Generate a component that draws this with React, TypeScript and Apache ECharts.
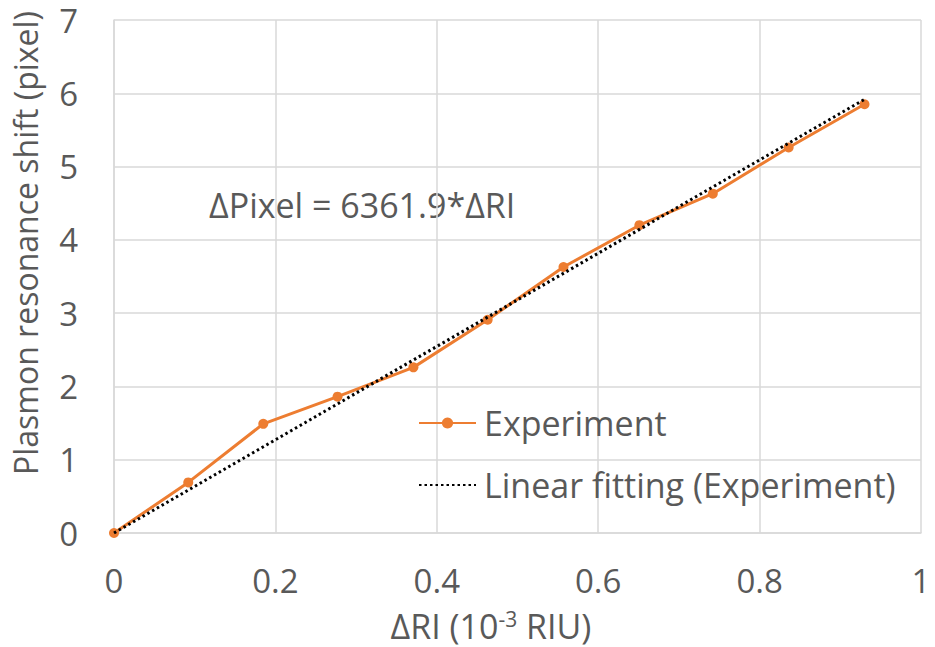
import React, { useEffect, useRef } from "react";
import * as echarts from "echarts";

const riValues = [0, 0.092, 0.185, 0.277, 0.371, 0.463, 0.557, 0.651, 0.742, 0.836, 0.93];
const shiftValues = [0, 0.69, 1.49, 1.86, 2.26, 2.91, 3.63, 4.2, 4.63, 5.26, 5.85];
const fitX = [0, 0.93];
const fitY = [0, 5.917];
const xTicks = [0, 0.2, 0.4, 0.6, 0.8, 1];
const yTicks = [0, 1, 2, 3, 4, 5, 6, 7];

const FONT = "'Open Sans', sans-serif";
const GRAY = "#595959";
const ORANGE = "#ED7D31";

export default function App() {
  const ref = useRef<HTMLDivElement>(null);
  useEffect(() => {
    if (!ref.current) return;
    const chart = echarts.init(ref.current, undefined, { renderer: "svg" });
    chart.setOption({
      animation: false,
      backgroundColor: "#ffffff",
      textStyle: { fontFamily: FONT },
      grid: { left: 114, top: 20, right: 14, bottom: 114 },
      xAxis: {
        type: "value",
        min: xTicks[0],
        max: xTicks[xTicks.length - 1],
        interval: 0.2,
        axisLine: { lineStyle: { color: "#d9d9d9", width: 1.5 } },
        axisTick: { show: false },
        splitLine: { lineStyle: { color: "#d9d9d9", width: 1.5 } },
        axisLabel: {
          color: GRAY,
          fontSize: 33,
          fontFamily: FONT,
          margin: 31,
          formatter: (v: number) => String(Math.round(v * 10) / 10),
        },
      },
      yAxis: {
        type: "value",
        min: yTicks[0],
        max: yTicks[yTicks.length - 1],
        interval: 1,
        axisLine: { show: true, lineStyle: { color: "#d9d9d9", width: 1.5 } },
        axisTick: { show: false },
        splitLine: { lineStyle: { color: "#d9d9d9", width: 1.5 } },
        axisLabel: { color: GRAY, fontSize: 33, fontFamily: FONT, margin: 36, lineHeight: 33 },
      },
      legend: {
        orient: "vertical",
        left: 413,
        top: 401,
        itemWidth: 57,
        itemHeight: 14,
        itemGap: 28,
        textStyle: { color: GRAY, fontSize: 34, fontFamily: FONT, padding: [0, 0, 0, 3] },
        data: [
          { name: "Experiment" },
          { name: "Linear fitting (Experiment)", itemStyle: { opacity: 0 } },
        ],
      },
      series: [
        {
          name: "Linear fitting (Experiment)",
          type: "line",
          data: fitX.map((x, i) => [x, fitY[i]]),
          symbol: "none",
          lineStyle: { color: "#000000", width: 3, type: [2.5, 3] },
          itemStyle: { color: "#000000" },
          z: 3,
        },
        {
          name: "Experiment",
          type: "line",
          data: riValues.map((x, i) => [x, shiftValues[i]]),
          symbol: "circle",
          symbolSize: 10,
          lineStyle: { color: ORANGE, width: 3 },
          itemStyle: { color: ORANGE },
          z: 2,
        },
      ],
      graphic: [
        {
          type: "text",
          left: 209,
          top: 188,
          style: { text: "ΔPixel = 6361.9*ΔRI", fill: GRAY, font: `34px ${FONT}` },
        },
        {
          type: "text",
          x: 25,
          y: 243,
          rotation: Math.PI / 2,
          style: {
            text: "Plasmon resonance shift (pixel)",
            fill: GRAY,
            font: `32px ${FONT}`,
            align: "center",
            verticalAlign: "middle",
          },
        },
        {
          type: "text",
          x: 491,
          y: 626,
          style: {
            text: "ΔRI (10{sup|-3} RIU)",
            fill: GRAY,
            font: `34px ${FONT}`,
            lineHeight: 36,
            align: "center",
            verticalAlign: "middle",
            rich: {
              sup: { fontSize: 21, lineHeight: 36, fill: GRAY, fontFamily: FONT, verticalAlign: "top", padding: [0, 0, 6, 0] },
            },
          },
        },
      ],
    });
    return () => chart.dispose();
  }, []);
  return (
    <div
      ref={ref}
      style={{ position: "fixed", left: 0, top: 0, width: 935, height: 647 }}
    />
  );
}
